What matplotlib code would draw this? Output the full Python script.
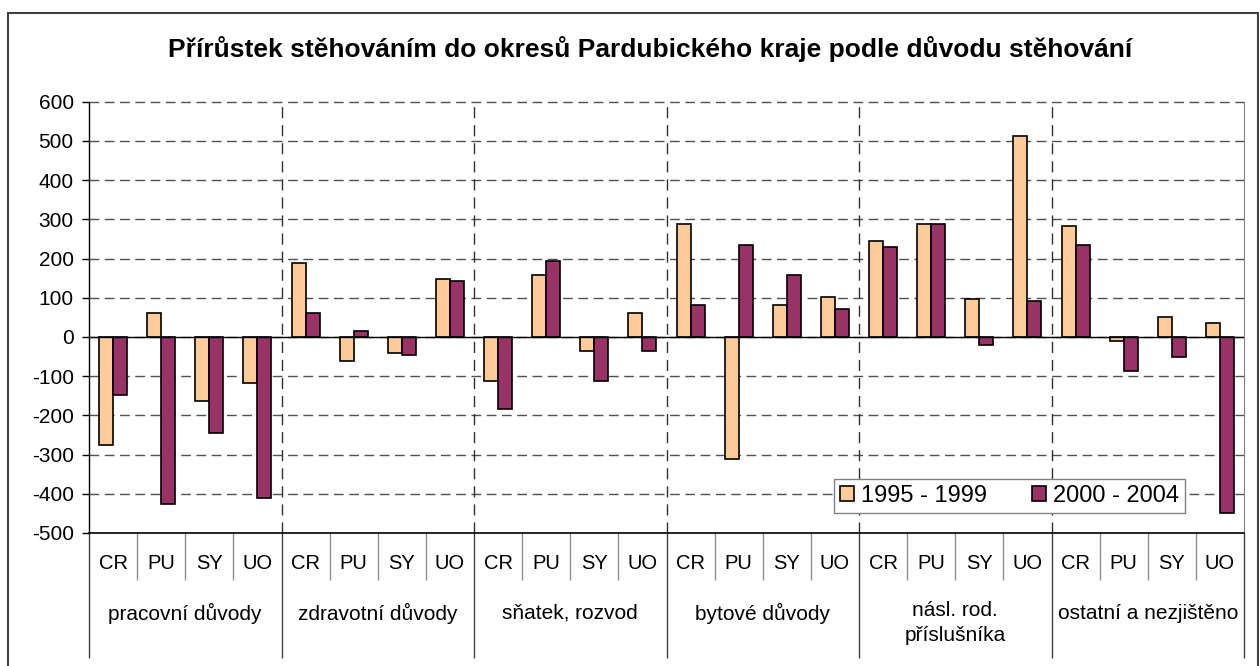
import numpy as np
import matplotlib
matplotlib.use('Agg')
import matplotlib.pyplot as plt
from matplotlib.patches import Rectangle

plt.rcParams['font.family'] = ['Liberation Sans', 'DejaVu Sans']

# data
okresy = ['CR', 'PU', 'SY', 'UO']
duvody = ['pracovní důvody', 'zdravotní důvody', 'sňatek, rozvod', 'bytové důvody',
          'násl. rod.\npříslušníka', 'ostatní a nezjištěno']
obdobi_1995 = [-275, 60, -163, -118,
               188, -61, -41, 147,
               -112, 157, -36, 60,
               289, -310, 81, 101,
               244, 289, 96, 512,
               284, -10, 50, 35]
obdobi_2000 = [-147, -427, -244, -412,
               60, 15, -46, 142,
               -184, 194, -112, -36,
               81, 235, 158, 71,
               229, 289, -20, 92,
               235, -87, -51, -448]
yticks = list(range(-500, 601, 100))

W, H = 1259, 666
fig = plt.figure(figsize=(W/100, H/100), dpi=100)
ax = fig.add_axes([89/W, 1-533/H, (1244-89)/W, (533-101.7)/H])

n = len(obdobi_1995)
x = np.arange(n) + 0.5
w = 0.29
ax.bar(x - w/2, obdobi_1995, w, color='#FFCC99', edgecolor='black', linewidth=1.2,
       label='1995 - 1999', zorder=3)
ax.bar(x + w/2, obdobi_2000, w, color='#993366', edgecolor='black', linewidth=1.2,
       label='2000 - 2004', zorder=3)

ax.set_xlim(0, n)
ax.set_ylim(-500, 600)

# grid
for v in yticks[1:]:
    ax.axhline(v, color='#505050', lw=1, dashes=(7, 4), zorder=1, clip_on=False)
for g in range(4, n, 4):
    ax.axvline(g, color='#303030', lw=1, dashes=(8, 5), zorder=1)
ax.axhline(0, color='black', lw=1, zorder=4)

ax.spines['top'].set_visible(False)
ax.spines['right'].set_color('#808080')
ax.spines['left'].set_color('black')
ax.spines['bottom'].set_color('black')
ax.spines['left'].set_linewidth(1)
ax.spines['bottom'].set_linewidth(1.2)

ax.set_yticks(yticks)
ax.set_yticklabels([str(v) for v in yticks], fontsize=15)
ax.tick_params(axis='y', length=5, width=1, pad=6)

ax.set_xticks(range(0, n+1, 4))
ax.set_xticks([i for i in range(n+1) if i % 4 != 0], minor=True)
ax.set_xticklabels([])
ax.tick_params(axis='x', which='major', length=90, width=1, color='#404040')
ax.tick_params(axis='x', which='minor', length=34, width=1, color='#909090')

tr = ax.get_xaxis_transform()
for i in range(n):
    ax.text(x[i], -0.0696, okresy[i % 4], transform=tr, ha='center', va='center', fontsize=14.5)
for k, d in enumerate(duvody):
    yy = -0.1855 if '\n' not in d else -0.208
    ax.text(4*k + 2, yy, d, transform=tr, ha='center', va='center', fontsize=15,
            linespacing=1.4)

leg = ax.legend(loc='upper left', bbox_to_anchor=(834/W, 1-479/H),
                bbox_transform=fig.transFigure, ncol=2, fontsize=17, frameon=True,
                fancybox=False, edgecolor='#808080', framealpha=1,
                handlelength=0.6, handleheight=0.6, handletextpad=0.3,
                columnspacing=1.9, borderpad=0.25, borderaxespad=0)
leg.get_frame().set_linewidth(1)
leg.set_zorder(5)

fig.text(650/W, 1-57/H, 'Přírůstek stěhováním do okresů Pardubického kraje podle důvodu stěhování',
         ha='center', va='baseline', fontsize=19, fontweight='bold')

fig.patches.append(Rectangle((8/W, -0.1), (1257.5-8)/W, 1.1-13/H, transform=fig.transFigure,
                             fill=False, edgecolor='#404040', lw=1.5))

fig.savefig('out.png', dpi=100)
